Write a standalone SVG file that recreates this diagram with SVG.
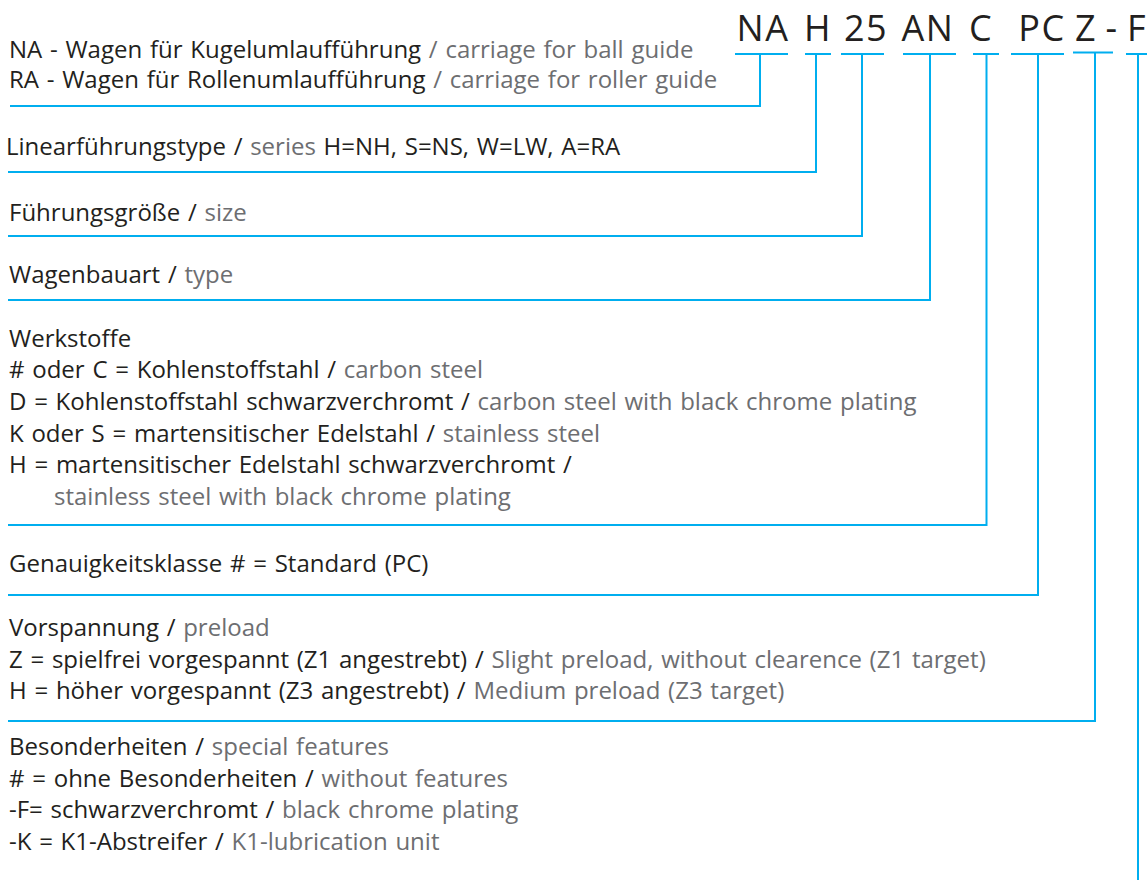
<svg xmlns="http://www.w3.org/2000/svg" width="1147" height="880" viewBox="0 0 1147 880">
<style>
.t{font-family:"Open Sans","Noto Sans","Liberation Sans",sans-serif;font-size:24px;word-spacing:1.5px;fill:#231f20}
.g{fill:#6d6e71}
.code{font-family:"Open Sans","Noto Sans","Liberation Sans",sans-serif;font-size:36px;fill:#231f20;text-anchor:middle;letter-spacing:1.5px}
.ln{fill:none;stroke:#00aeef;stroke-width:2}
</style>
<rect width="1147" height="880" fill="#fff"/>
<g id="code">
<text class="code" x="763" y="40.5">NA</text>
<text class="code" x="818" y="40.5">H</text>
<text class="code" x="866" y="40.5">25</text>
<text class="code" x="928" y="40.5">AN</text>
<text class="code" x="981" y="40.5">C</text>
<text class="code" x="1042" y="40.5">PC</text>
<text class="code" x="1086" y="40.5">Z</text>
<text class="code" x="1112" y="40.5">-</text>
<text class="code" x="1137" y="40.5">F</text>
</g>
<g id="connectors">
<path class="ln" d="M735,54 H788 M760,54 V106 H10"/>
<path class="ln" d="M805,54 H831 M816,54 V172 H8"/>
<path class="ln" d="M841,54 H884 M862,54 V236 H8"/>
<path class="ln" d="M903,54 H956 M930,54 V300 H8"/>
<path class="ln" d="M973,54 H999 M986.5,54 V525 H8"/>
<path class="ln" d="M1011,54 H1064 M1038,54 V595 H8"/>
<path class="ln" d="M1073,52.5 H1113 M1095,52.5 V721 H8"/>
<path class="ln" d="M1126,54 H1147 M1138,54 V880"/>
</g>
<g id="node-carriage">
<text class="t" x="9" y="57.7">NA - Wagen für Kugelumlaufführung <tspan class="g">/ carriage for ball guide</tspan></text>
<text class="t" x="9" y="88.3">RA - Wagen für Rollenumlaufführung <tspan class="g">/ carriage for roller guide</tspan></text>
</g>
<g id="node-series">
<text class="t" x="6" y="155">Linearführungstype / <tspan class="g">series</tspan> H=NH, S=NS, W=LW, A=RA</text>
</g>
<g id="node-size">
<text class="t" x="9" y="220.7">Führungsgröße / <tspan class="g">size</tspan></text>
</g>
<g id="node-type">
<text class="t" x="9" y="283.3">Wagenbauart / <tspan class="g">type</tspan></text>
</g>
<g id="node-material">
<text class="t" x="9" y="346.7">Werkstoffe</text>
<text class="t" x="9" y="378.3"># oder C = Kohlenstoffstahl / <tspan class="g">carbon steel</tspan></text>
<text class="t" x="9" y="410">D = Kohlenstoffstahl schwarzverchromt / <tspan class="g">carbon steel with black chrome plating</tspan></text>
<text class="t" x="9" y="441.7">K oder S = martensitischer Edelstahl / <tspan class="g">stainless steel</tspan></text>
<text class="t" x="9" y="473.3">H = martensitischer Edelstahl schwarzverchromt /</text>
<text class="t g" x="54" y="505">stainless steel with black chrome plating</text>
</g>
<g id="node-accuracy">
<text class="t" x="9" y="571.7">Genauigkeitsklasse # = Standard (PC)</text>
</g>
<g id="node-preload">
<text class="t" x="9" y="636">Vorspannung / <tspan class="g">preload</tspan></text>
<text class="t" x="9" y="667.5">Z = spielfrei vorgespannt (Z1 angestrebt) / <tspan class="g">Slight preload, without clearence (Z1 target)</tspan></text>
<text class="t" x="9" y="699">H = höher vorgespannt (Z3 angestrebt) / <tspan class="g">Medium preload (Z3 target)</tspan></text>
</g>
<g id="node-features">
<text class="t" x="9" y="755">Besonderheiten / <tspan class="g">special features</tspan></text>
<text class="t" x="9" y="786.5"># = ohne Besonderheiten / <tspan class="g">without features</tspan></text>
<text class="t" x="9" y="818">-F= schwarzverchromt / <tspan class="g">black chrome plating</tspan></text>
<text class="t" x="9" y="849.5">-K = K1-Abstreifer / <tspan class="g">K1-lubrication unit</tspan></text>
</g>
</svg>
